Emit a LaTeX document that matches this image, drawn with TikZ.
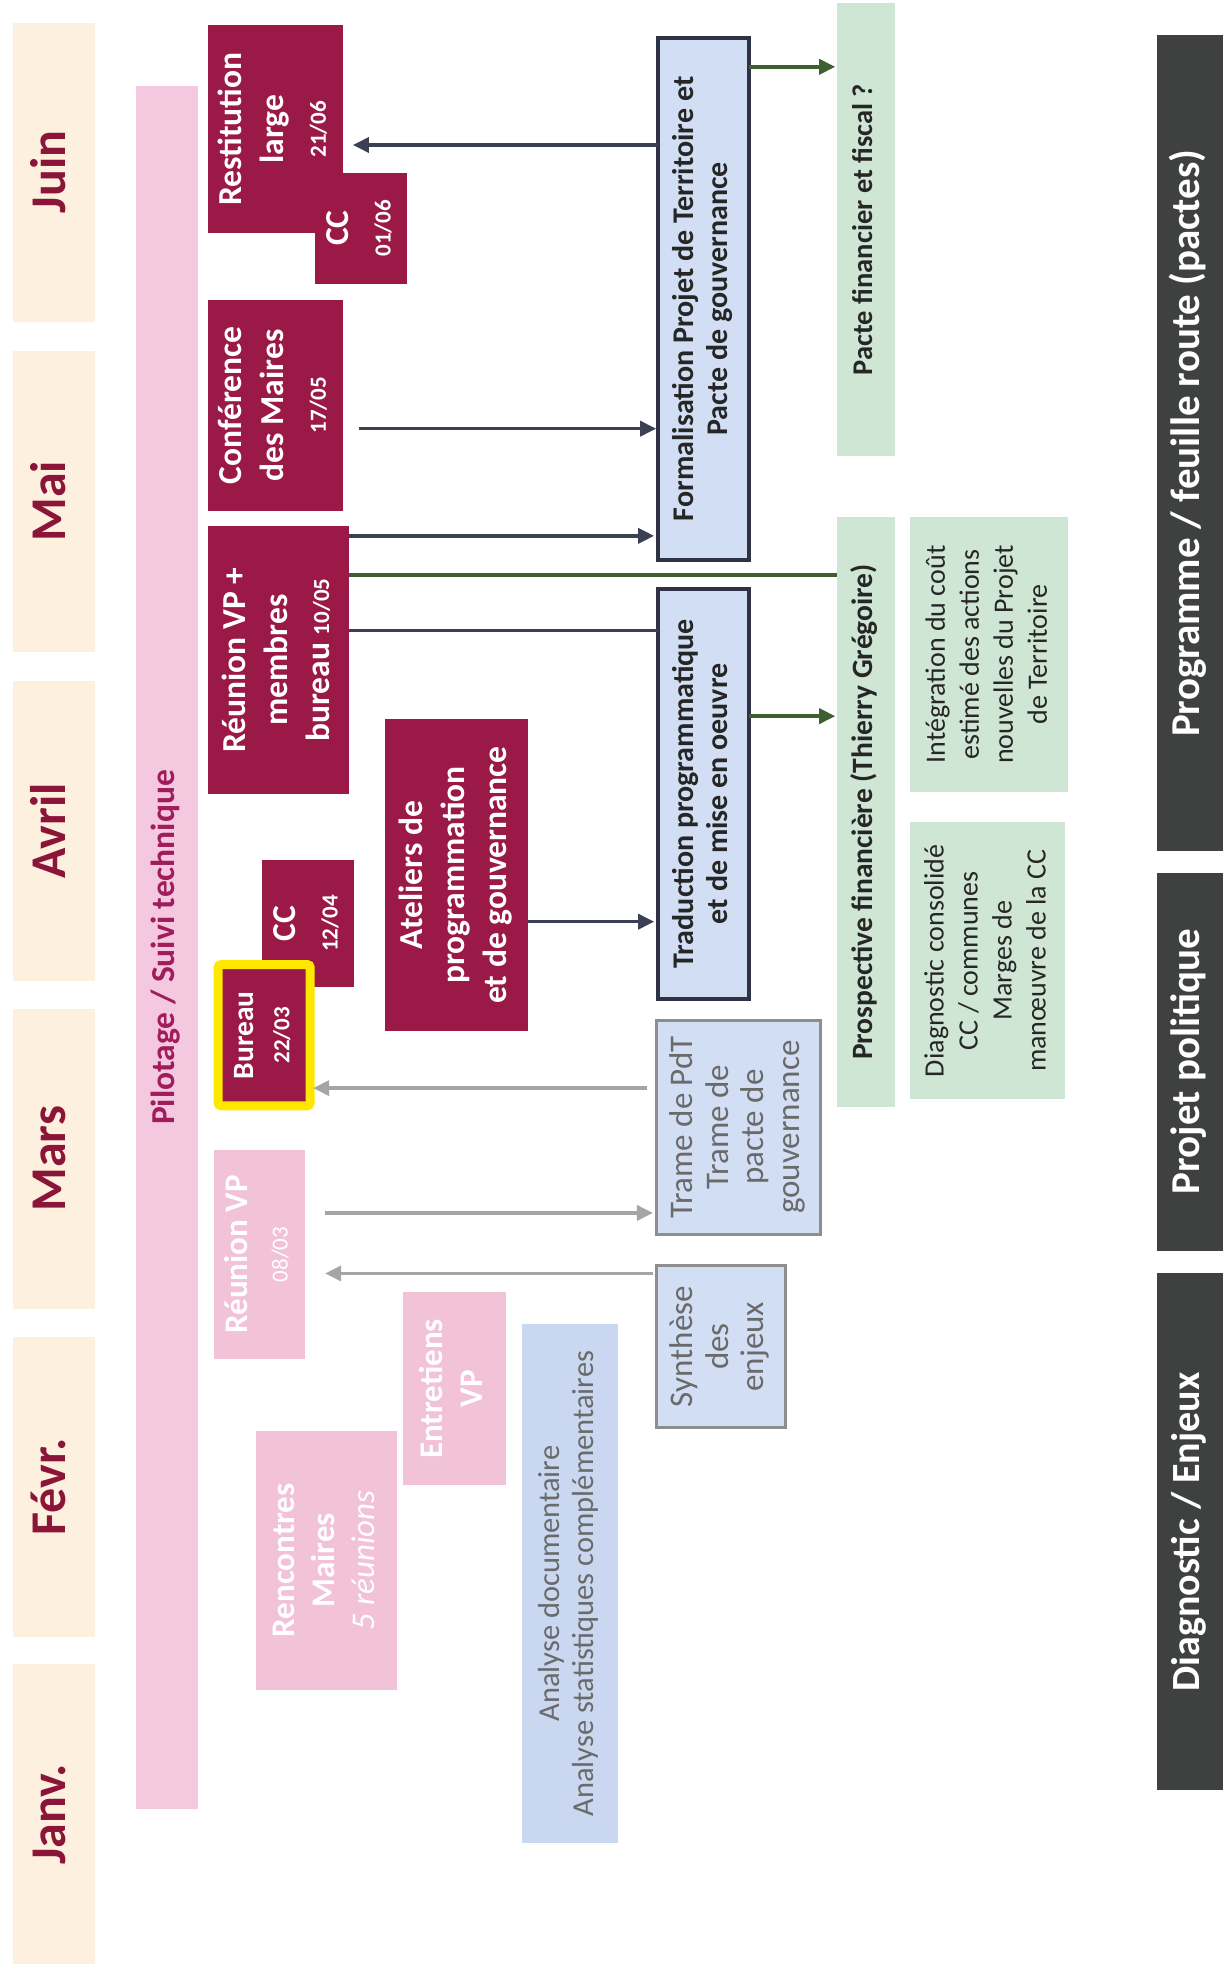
\documentclass[tikz,border=0pt]{standalone}
\usepackage{fontspec}
\setmainfont{Carlito}
\usepackage{graphicx}
\usetikzlibrary{arrows.meta}
\definecolor{monthbg}{HTML}{FDF0DE}
\definecolor{monthtxt}{HTML}{8B1538}
\definecolor{pilotbg}{HTML}{F4C8DE}
\definecolor{pilottxt}{HTML}{A01C5C}
\definecolor{maroon}{HTML}{9B1946}
\definecolor{lpink}{HTML}{F2C2D6}
\definecolor{lblue}{HTML}{D2DEF3}
\definecolor{ablue}{HTML}{C9D8F0}
\definecolor{dborder}{HTML}{2E3244}
\definecolor{gborder}{HTML}{8E8E8E}
\definecolor{gtxt}{HTML}{6A6A6A}
\definecolor{lgreen}{HTML}{D0E6D4}
\definecolor{darkbar}{HTML}{3F4141}
\definecolor{arrdark}{HTML}{3B4052}
\definecolor{arrgreen}{HTML}{3E5F2F}
\definecolor{arrgray}{HTML}{A5A5A5}
\definecolor{hlyellow}{HTML}{FFE800}
\newcommand\fs[2]{\fontsize{#1}{#2}\selectfont}
\newcommand\rt[1]{\rotatebox{90}{\begin{tabular}{@{}c@{}}#1\end{tabular}}}
\newcommand\bx[7]{\node[#1,minimum width={(#4-#2)*1.2606pt},minimum height={(#5-#3)*1.2606pt}] (#6) at ({(#2+#4)/2},{(#3+#5)/2}) {#7};}
\newcommand\dt[1]{{\fs{23}{28}#1}}
\begin{document}
\begin{tikzpicture}[x=1.2606pt,y=-1.2606pt,
  every node/.style={inner sep=0pt,outer sep=0pt},
  month/.style={fill=monthbg,text=monthtxt,font=\bfseries\fs{50}{60}},
  pilot/.style={fill=pilotbg,text=pilottxt,font=\bfseries\fs{33.5}{38}},
  mar/.style={fill=maroon,text=white,font=\bfseries\fs{33.5}{42}},
  lp/.style={fill=lpink,text=white,font=\bfseries\fs{33}{40}},
  anal/.style={fill=ablue,text=gtxt,font=\fs{30.5}{34}},
  dbox/.style={fill=lblue,draw=dborder,line width=4pt,text=black!85,font=\bfseries\fs{30}{34}},
  gbox/.style={fill=lblue,draw=gborder,line width=3pt,text=gtxt,font=\fs{33}{35.5}},
  gr/.style={fill=lgreen,text=black!85,font=\fs{28}{34}},
  phase/.style={fill=darkbar,text=white,font=\bfseries\fs{41}{44}},
  arr/.style={draw=arrdark,line width=3.5pt,-{Triangle[length=16pt,width=15pt]}},
  ln/.style={draw=arrdark,line width=3.5pt},
  garr/.style={draw=arrgreen,line width=3.5pt,-{Triangle[length=16pt,width=15pt]}},
  gln/.style={draw=arrgreen,line width=3.5pt},
  grarr/.style={draw=arrgray,line width=3.5pt,-{Triangle[length=16pt,width=15pt]}}
]
\useasboundingbox (0,0) rectangle (971,1568);

% months
\bx{month}{10}{18}{75}{255}{jun}{\rt{Juin}}
\bx{month}{10}{278}{75}{517}{may}{\rt{Mai}}
\bx{month}{10}{540}{75}{778}{apr}{\rt{Avril}}
\bx{month}{10}{800}{75}{1038}{mar}{\rt{Mars}}
\bx{month}{10}{1060}{75}{1298}{feb}{\rt{Févr.}}
\bx{month}{10}{1320}{75}{1558}{jan}{\rt{Janv.}}

% pilotage
\bx{pilot}{108}{68}{157}{1435}{pilot}{\rt{Pilotage / Suivi technique}}

% maroon events
\bx{mar}{165}{20}{272}{185}{rest}{\rt{Restitution\\large\\\dt{21/06}}}
\bx{mar}{250}{137}{323}{225}{cc1}{\rt{CC\\\dt{01/06}}}
\bx{mar}{165}{238}{272}{405}{conf}{\rt{Conférence\\des Maires\\\dt{17/05}}}
\bx{mar}{165}{417}{277}{630}{reun}{\rt{Réunion VP +\\membres\\bureau \dt{10/05}}}
\bx{mar}{208}{682}{281}{783}{cc2}{\rt{CC\\\dt{12/04}}}
\bx{mar,draw=hlyellow,line width=9pt,rounded corners=3pt,font=\bfseries\fs{29.5}{36}}{173}{765}{246}{877}{bureau}{\rt{Bureau\\\dt{22/03}}}
\bx{mar}{305}{570}{419}{818}{atel}{\rt{Ateliers de\\programmation\\et de gouvernance}}

% light pink events
\bx{lp}{170}{912}{242}{1078}{reunvp}{\rt{Réunion VP\\{\mdseries\dt{08/03}}}}
\bx{lp}{203}{1135}{315}{1340}{renc}{\rt{Rencontres\\Maires\\{\mdseries\itshape 5 réunions}}}
\bx{lp}{320}{1025}{401}{1178}{entr}{\rt{Entretiens\\VP}}

% analyse
\bx{anal}{414}{1050}{490}{1462}{anal}{\rt{Analyse documentaire\\Analyse statistiques complémentaires}}

% blue boxes
\bx{dbox}{522}{30}{594}{444}{formal}{\rt{Formalisation Projet de Territoire et\\Pacte de gouvernance}}
\bx{dbox}{522}{467}{594}{792}{trad}{\rt{Traduction programmatique\\et de mise en oeuvre}}
\bx{gbox}{521}{809}{651}{979}{trame}{\rt{Trame de PdT\\Trame de\\pacte de\\gouvernance}}
\bx{gbox}{521}{1004}{623}{1132}{synth}{\rt{Synthèse\\des\\enjeux}}

% green boxes
\bx{gr,font=\bfseries\fs{28.5}{30}}{664}{2}{710}{362}{pacte}{\rt{Pacte financier et fiscal ?}}
\bx{gr,font=\bfseries\fs{29.5}{30}}{664}{410}{710}{878}{prosp}{\rt{Prospective financière (Thierry Grégoire)}}
\bx{gr}{722}{410}{847}{628}{integ}{\rt{Intégration du coût\\estimé des actions\\nouvelles du Projet\\de Territoire}}
\bx{gr}{722}{652}{845}{872}{diagc}{\rt{Diagnostic consolidé\\CC / communes\\Marges de\\manœuvre de la CC}}

% phases
\bx{phase}{918}{28}{970}{675}{ph3}{\rt{Programme / feuille route (pactes)}}
\bx{phase}{918}{692}{970}{992}{ph2}{\rt{Projet politique}}
\bx{phase,font=\bfseries\fs{40}{44}}{918}{1010}{970}{1420}{ph1}{\rt{Diagnostic / Enjeux}}

% connectors
\draw[arr,shorten >=10pt] (formal.west |- 0,115) -- (rest.east |- 0,115);
\draw[arr,shorten <=16pt,shorten >=2pt] (conf.east |- 0,340) -- (formal.west |- 0,340);
\draw[arr,shorten >=4pt] (reun.east |- 0,425) -- (formal.west |- 0,425);
\draw[gln] (reun.east |- 0,456) -- (prosp.west |- 0,456);
\draw[ln] (reun.east |- 0,500) -- (trad.west |- 0,500);
\draw[arr,shorten >=4pt] (atel.east |- 0,731) -- (trad.west |- 0,731);
\draw[garr,shorten >=2pt] (formal.east |- 0,53) -- (pacte.west |- 0,53);
\draw[garr,shorten >=2pt] (trad.east |- 0,568) -- (prosp.west |- 0,568);
\draw[grarr,shorten <=10pt,shorten >=3pt] (trame.west |- 0,863) -- (bureau.east |- 0,863);
\draw[grarr,shorten <=20pt,shorten >=4pt] (reunvp.east |- 0,962) -- (trame.west |- 0,962);
\draw[grarr,shorten <=4pt,shorten >=20pt] (synth.west |- 0,1010) -- (reunvp.east |- 0,1010);
\end{tikzpicture}
\end{document}
